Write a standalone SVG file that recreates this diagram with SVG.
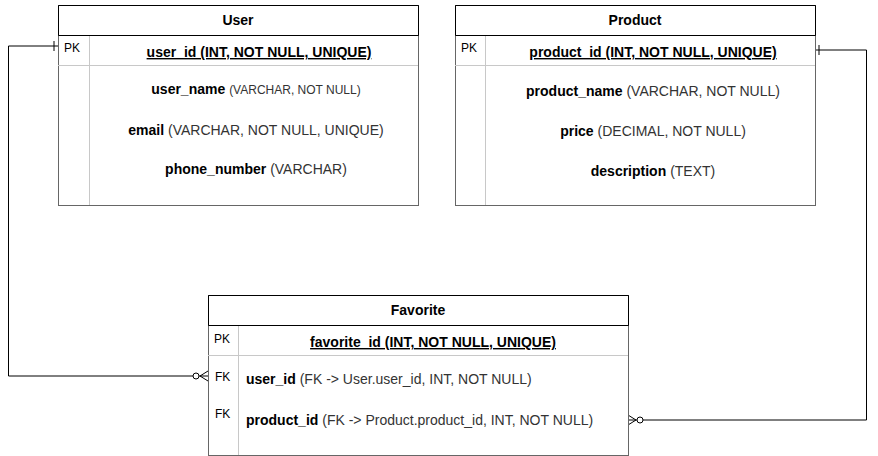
<svg xmlns="http://www.w3.org/2000/svg" width="878" height="456" viewBox="0 0 878 456">
<style>
.box{fill:#fff;stroke:#666;stroke-width:1}
.hdr{fill:none;stroke:#000;stroke-width:1}
.sep{stroke:#c8c8c8;stroke-width:1}
.t{font-family:"Liberation Sans",Arial,sans-serif;font-size:14px;fill:#000}
.b{font-weight:bold}
.ty{fill:#333}
.k{font-family:"Liberation Sans",Arial,sans-serif;font-size:12px;fill:#000}
.c{text-anchor:middle}
.u{text-decoration:underline}
.ln{fill:none;stroke:#000;stroke-width:1}
</style>
<g id="connectors">
<path class="ln" d="M58,46 H8.5 V376 H208"/>
<path class="ln" d="M54,41 V51"/>
<circle cx="196" cy="376" r="3" fill="#fff" stroke="#000"/>
<path class="ln" d="M200,376 L208,371 M200,376 L208,381"/>
<path class="ln" d="M815,50 H866.5 V420 H628"/>
<path class="ln" d="M819,45 V55"/>
<circle cx="640" cy="420" r="3" fill="#fff" stroke="#000"/>
<path class="ln" d="M636,420 L628,415 M636,420 L628,425"/>
</g>
<g id="user">
<rect class="box" x="58.5" y="5.5" width="360" height="200"/>
<path class="hdr" d="M58.5,5.5 H418.5 V35.5 H58.5 Z"/>
<line class="sep" x1="58" y1="65.5" x2="418" y2="65.5"/>
<line class="sep" x1="89.5" y1="36" x2="89.5" y2="205"/>
<text class="t b c" x="238" y="25">User</text>
<text class="k" x="64" y="52">PK</text>
<text class="t b c u" x="259" y="57" font-size="13.6">user_id (INT, NOT NULL, UNIQUE)</text>
<text class="t c" x="256" y="94"><tspan class="b">user_name</tspan> <tspan class="ty" font-size="12">(VARCHAR, NOT NULL)</tspan></text>
<text class="t c" x="256" y="135"><tspan class="b">email</tspan> <tspan class="ty">(VARCHAR, NOT NULL, UNIQUE)</tspan></text>
<text class="t c" x="256" y="174"><tspan class="b">phone_number</tspan> <tspan class="ty">(VARCHAR)</tspan></text>
</g>
<g id="product">
<rect class="box" x="455.5" y="5.5" width="360" height="200"/>
<path class="hdr" d="M455.5,5.5 H815.5 V35.5 H455.5 Z"/>
<line class="sep" x1="455" y1="65.5" x2="815" y2="65.5"/>
<line class="sep" x1="485.5" y1="36" x2="485.5" y2="205"/>
<text class="t b c" x="635" y="25">Product</text>
<text class="k" x="461" y="52">PK</text>
<text class="t b c u" x="653" y="57" font-size="13.6">product_id (INT, NOT NULL, UNIQUE)</text>
<text class="t c" x="653" y="96"><tspan class="b">product_name</tspan> <tspan class="ty">(VARCHAR, NOT NULL)</tspan></text>
<text class="t c" x="653" y="136"><tspan class="b">price</tspan> <tspan class="ty">(DECIMAL, NOT NULL)</tspan></text>
<text class="t c" x="653" y="176"><tspan class="b">description</tspan> <tspan class="ty">(TEXT)</tspan></text>
</g>
<g id="favorite">
<rect class="box" x="208.5" y="295.5" width="420" height="160"/>
<path class="hdr" d="M208.5,295.5 H628.5 V325.5 H208.5 Z"/>
<line class="sep" x1="208" y1="355.5" x2="628" y2="355.5"/>
<line class="sep" x1="238.5" y1="326" x2="238.5" y2="455"/>
<text class="t b c" x="418" y="315">Favorite</text>
<text class="k" x="214" y="343">PK</text>
<text class="t b c u" x="433" y="347" font-size="13.6">favorite_id (INT, NOT NULL, UNIQUE)</text>
<text class="k" x="215" y="381">FK</text>
<text class="t" x="246" y="384"><tspan class="b">user_id</tspan> <tspan class="ty">(FK -&gt; User.user_id, INT, NOT NULL)</tspan></text>
<text class="k" x="215" y="418">FK</text>
<text class="t" x="246" y="425"><tspan class="b">product_id</tspan> <tspan class="ty">(FK -&gt; Product.product_id, INT, NOT NULL)</tspan></text>
</g>
</svg>
